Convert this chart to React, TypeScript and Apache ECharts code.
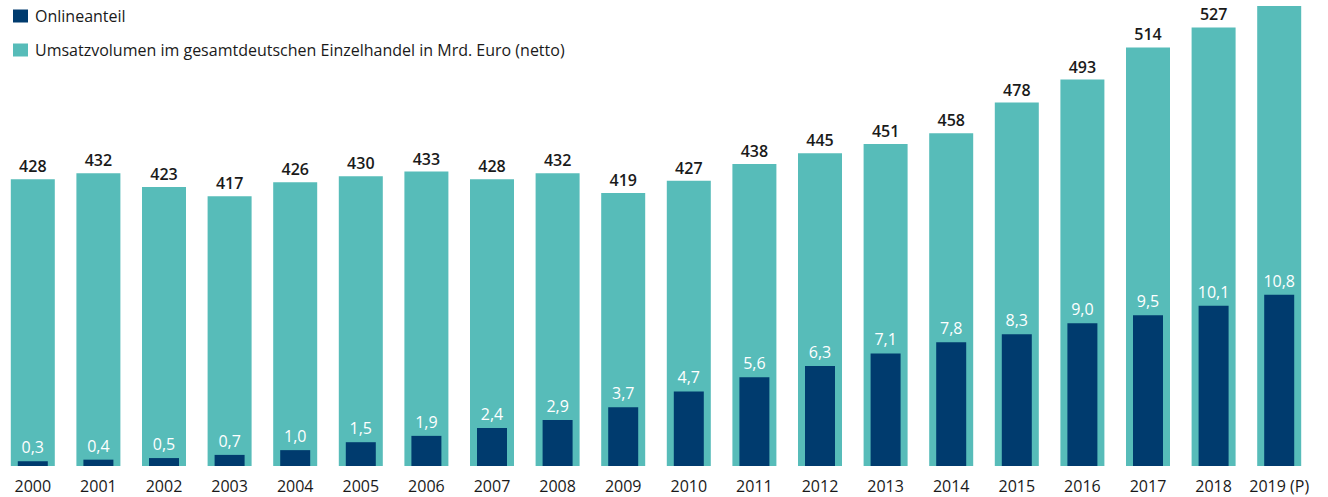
import React, { useEffect, useRef } from "react";
import * as echarts from "echarts";

const years = ["2000","2001","2002","2003","2004","2005","2006","2007","2008","2009","2010","2011","2012","2013","2014","2015","2016","2017","2018","2019 (P)"];
const totalVolume = [428,432,423,417,426,430,433,428,432,419,427,438,445,451,458,478,493,514,527,541];
const onlineShare = [0.3,0.4,0.5,0.7,1.0,1.5,1.9,2.4,2.9,3.7,4.7,5.6,6.3,7.1,7.8,8.3,9.0,9.5,10.1,10.8];
const seriesNames = ["Onlineanteil", "Umsatzvolumen im gesamtdeutschen Einzelhandel in Mrd. Euro (netto)"];

const TEAL = "#57bcb9";
const NAVY = "#003b6e";
const TEXT = "#1a1a1a";
const FONT = "'Open Sans', 'Noto Sans', sans-serif";

export default function App() {
  const ref = useRef<HTMLDivElement>(null);
  useEffect(() => {
    if (!ref.current) return;
    const chart = echarts.init(ref.current, null, { renderer: "svg" });
    const lastIdx = totalVolume.length - 1;
    chart.setOption({
      animation: false,
      textStyle: { fontFamily: FONT },
      legend: {
        orient: "vertical",
        left: 8,
        top: 3,
        itemWidth: 15,
        itemHeight: 13,
        itemGap: 18,
        icon: "rect",
        data: seriesNames,
        textStyle: { fontSize: 16, color: TEXT, fontFamily: FONT, padding: [0, 0, 0, 2] },
        selectedMode: false,
      },
      grid: { left: -1, right: 16, top: 6, bottom: 31, containLabel: false },
      xAxis: [
        {
          type: "category",
          data: years,
          axisLine: { show: false },
          axisTick: { show: false },
          axisLabel: { fontSize: 16, color: TEXT, margin: 12, fontFamily: FONT, interval: 0 },
        },
        {
          type: "category",
          data: years,
          show: false,
        },
      ],
      yAxis: [
        { type: "value", min: 241, max: 541, show: false, splitLine: { show: false } },
        { type: "value", min: 0, max: 29, show: false, splitLine: { show: false } },
      ],
      series: [
        {
          name: seriesNames[1],
          type: "bar",
          xAxisIndex: 0,
          yAxisIndex: 0,
          barWidth: 44,
          itemStyle: { color: TEAL },
          label: {
            show: true,
            position: "top",
            distance: 5,
            fontSize: 16,
            fontWeight: 600,
            color: TEXT,
            fontFamily: FONT,
          },
          data: totalVolume.map((v, i) =>
            i === lastIdx ? { value: v, label: { show: false } } : v
          ),
        },
        {
          name: seriesNames[0],
          type: "bar",
          xAxisIndex: 1,
          yAxisIndex: 1,
          barWidth: 30,
          itemStyle: { color: NAVY },
          label: {
            show: true,
            position: "top",
            distance: 6,
            fontSize: 16,
            color: "#ffffff",
            fontFamily: FONT,
            formatter: (p: any) => Number(p.value).toFixed(1).replace(".", ","),
          },
          data: onlineShare,
        },
      ],
    });
    return () => chart.dispose();
  }, []);
  return (
    <div
      ref={ref}
      style={{ position: "fixed", left: 0, top: 0, width: 1328, height: 497, background: "#ffffff" }}
    />
  );
}
